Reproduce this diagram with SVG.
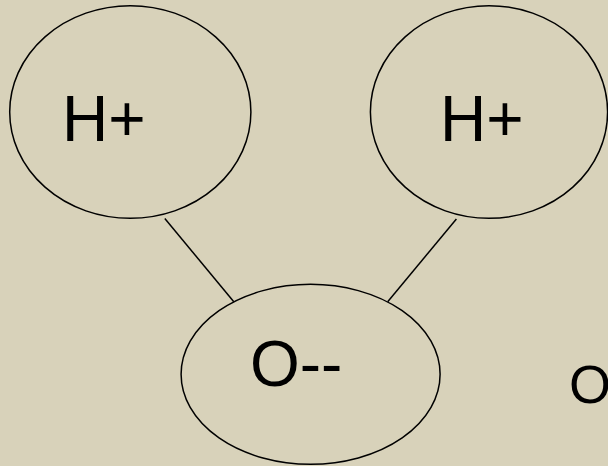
<svg xmlns="http://www.w3.org/2000/svg" width="608" height="466" viewBox="0 0 608 466">
<style>
.node{fill:none;stroke:#000;stroke-width:1.5}
.lbl{font-family:"Liberation Sans",Arial,sans-serif;font-size:64px;fill:#000}
.edge{stroke:#000;stroke-width:1.5;fill:none}
</style>
<rect x="0" y="0" width="608" height="466" fill="#D8D2BA"/>
<g id="connectors">
<line class="edge" x1="164.8" y1="218.5" x2="233.8" y2="301.7"/>
<line class="edge" x1="456.4" y1="219" x2="387.7" y2="301.7"/>
</g>
<g id="h1">
<ellipse class="node" cx="130.3" cy="112" rx="120.6" ry="106.3"/>
<text class="lbl" x="62" y="141">H+</text>
</g>
<g id="h2">
<ellipse class="node" cx="489" cy="112" rx="118.6" ry="106.3"/>
<text class="lbl" x="440" y="141">H+</text>
</g>
<g id="o">
<ellipse class="node" cx="310.6" cy="374.3" rx="129.5" ry="90"/>
<text class="lbl" x="250" y="386">O--</text>
</g>
<text class="lbl" x="569" y="403" style="font-size:54px">O</text>
</svg>
